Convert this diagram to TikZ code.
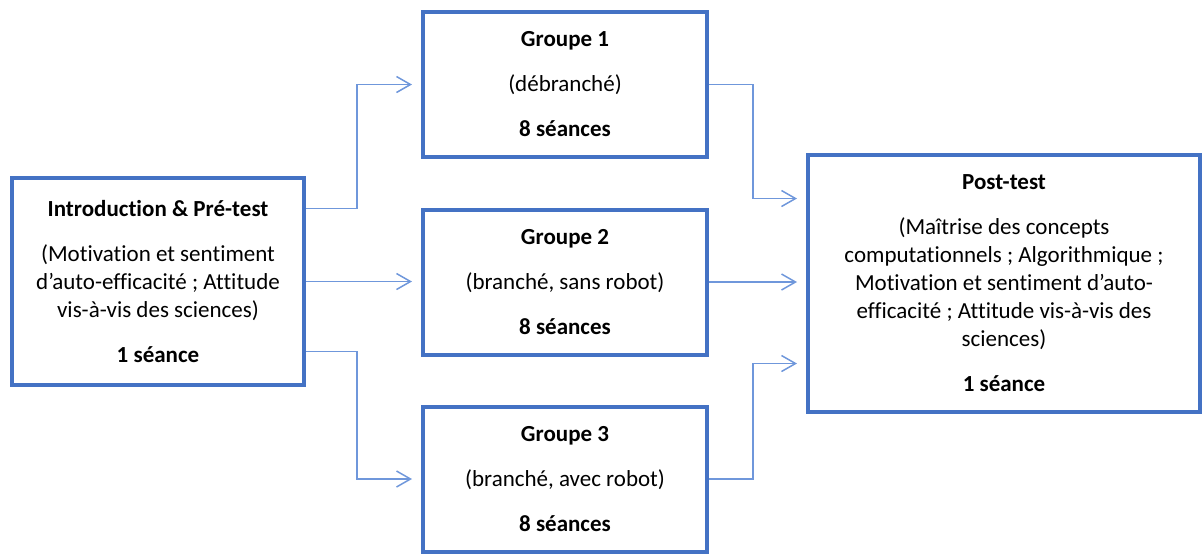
\documentclass[tikz,border=0pt]{standalone}
\usepackage{fontspec}
\setmainfont{Carlito}[Ligatures=NoCommon]
\usetikzlibrary{arrows.meta}
\definecolor{boxblue}{HTML}{4472C4}
\definecolor{lineblue}{HTML}{6F97DB}

\begin{document}
\begin{tikzpicture}[x=0.5pt,y=-0.5pt,
    box/.style={draw=boxblue,line width=2pt,align=center,inner sep=0pt,font=\fontsize{11.5}{14}\selectfont},
    groupbox/.style={box,minimum width=142pt,minimum height=72.5pt},
    link/.style={draw=lineblue,line width=0.75pt,-{Straight Barb[length=7pt,width=8pt]},shorten >=4.5pt}]
        \useasboundingbox (0,0) rectangle (1202,553);
        % boxes
        \node[box,minimum width=146pt,minimum height=103.5pt] (intro) at (158,281.5)
            {\textbf{Introduction \& Pré-test}\\[8.5pt](Motivation et sentiment\\d’auto-efficacité ; Attitude\\vis-à-vis des sciences)\\[8.5pt]\textbf{1 séance}};
        \node[groupbox] (g1) at (565,84.5) {\textbf{Groupe 1}\\[8.5pt](débranché)\\[8.5pt]\textbf{8 séances}};
        \node[groupbox] (g2) at (565,282) {\textbf{Groupe 2}\\[8.5pt](branché, sans robot)\\[8.5pt]\textbf{8 séances}};
        \node[groupbox] (g3) at (565,479) {\textbf{Groupe 3}\\[8.5pt](branché, avec robot)\\[8.5pt]\textbf{8 séances}};
        \node[box,minimum width=196pt,minimum height=128.5pt] (post) at (1004,283.5)
            {\textbf{Post-test}\\[8.5pt](Maîtrise des concepts\\computationnels ; Algorithmique ;\\Motivation et sentiment d’auto-\\efficacité ; Attitude vis-à-vis des\\sciences)\\[8.5pt]\textbf{1 séance}};
        % connectors
        \draw[link] ([yshift=36.5pt]intro.east) -- ++(51,0) |- (g1.west);
        \draw[link] (intro.east) -- (intro.east -| g2.west);
        \draw[link] ([yshift=-35pt]intro.east) -- ++(51,0) |- (g3.west);
        \draw[link] (g1.east) -- ++(44,0) |- ([yshift=42.5pt]post.west);
        \draw[link] (g2.east) -- (g2.east -| post.west);
        \draw[link] (g3.east) -- ++(44,0) |- ([yshift=-40pt]post.west);
\end{tikzpicture}
\end{document}
